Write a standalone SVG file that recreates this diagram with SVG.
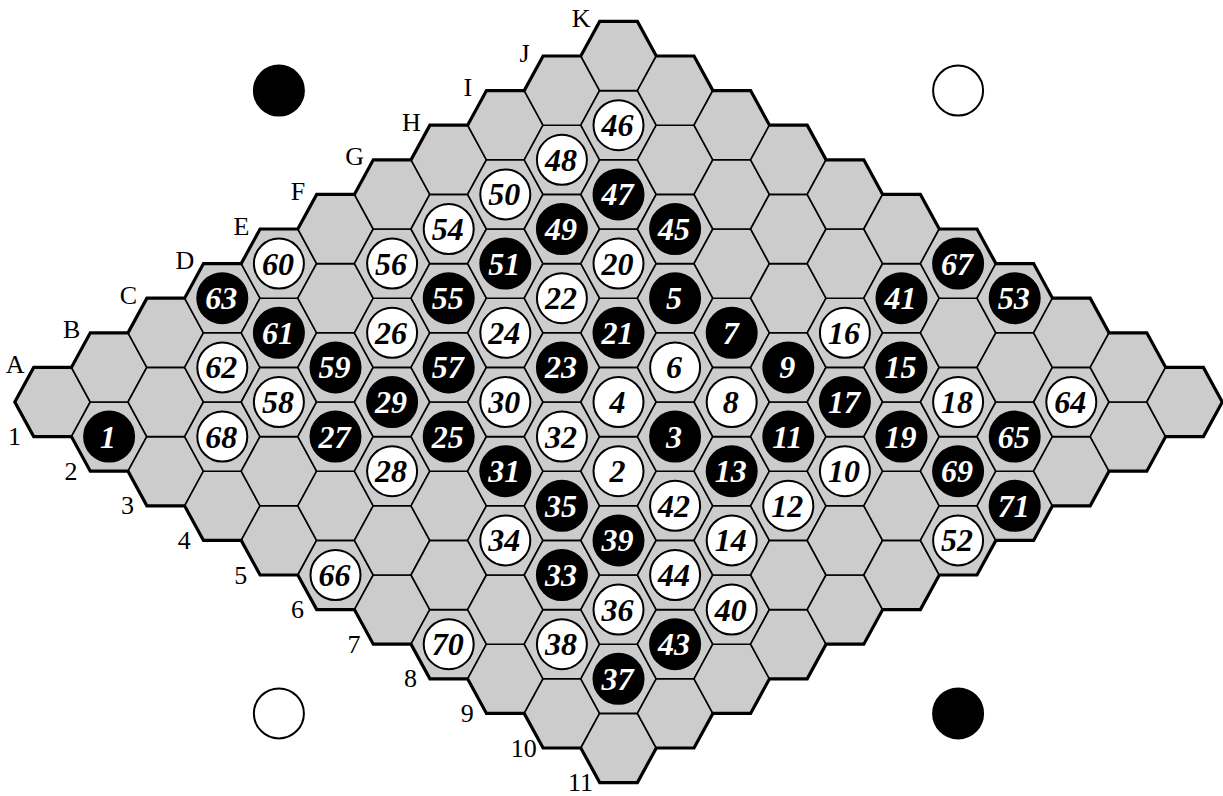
<svg xmlns="http://www.w3.org/2000/svg" width="1223" height="796" viewBox="0 0 1223 796">
<style>
.cell{fill:#cccccc;stroke:#000;stroke-width:1.6;stroke-linejoin:miter}
.edge{fill:none;stroke:#000;stroke-width:3.2;stroke-linejoin:miter}
.st circle{stroke:#000;stroke-width:2}
.st text{font-family:"Liberation Serif","Times New Roman",serif;font-weight:bold;font-style:italic;font-size:32px;text-anchor:middle}
.w circle{fill:#fff}.w text{fill:#000}
.b circle{fill:#000}.b text{fill:#fff}
.lab{font-family:"Liberation Serif","Times New Roman",serif;font-size:26px;text-anchor:middle;fill:#000}
.cw{fill:#fff;stroke:#000;stroke-width:2}
.cb{fill:#000;stroke:#000;stroke-width:2}
</style>
<defs>
<polygon id="hx" class="cell" points="-37.7,0 -18.9,-34.6 18.9,-34.6 37.7,0 18.9,34.6 -18.9,34.6"/>
</defs>
<g id="corners">
<circle class="cb" cx="278.9" cy="90.6" r="25"/>
<circle class="cw" cx="958.1" cy="90.6" r="25"/>
<circle class="cw" cx="278.9" cy="713.4" r="25"/>
<circle class="cb" cx="958.1" cy="713.4" r="25"/>
</g>
<g id="board">
<use id="A1" href="#hx" x="52.5" y="402"/><use id="A2" href="#hx" x="109.1" y="436.6"/><use id="A3" href="#hx" x="165.7" y="471.2"/><use id="A4" href="#hx" x="222.3" y="505.8"/><use id="A5" href="#hx" x="278.9" y="540.4"/><use id="A6" href="#hx" x="335.5" y="575"/><use id="A7" href="#hx" x="392.1" y="609.6"/><use id="A8" href="#hx" x="448.7" y="644.2"/><use id="A9" href="#hx" x="505.3" y="678.8"/><use id="A10" href="#hx" x="561.9" y="713.4"/><use id="A11" href="#hx" x="618.5" y="748"/>
<use id="B1" href="#hx" x="109.1" y="367.4"/><use id="B2" href="#hx" x="165.7" y="402"/><use id="B3" href="#hx" x="222.3" y="436.6"/><use id="B4" href="#hx" x="278.9" y="471.2"/><use id="B5" href="#hx" x="335.5" y="505.8"/><use id="B6" href="#hx" x="392.1" y="540.4"/><use id="B7" href="#hx" x="448.7" y="575"/><use id="B8" href="#hx" x="505.3" y="609.6"/><use id="B9" href="#hx" x="561.9" y="644.2"/><use id="B10" href="#hx" x="618.5" y="678.8"/><use id="B11" href="#hx" x="675.1" y="713.4"/>
<use id="C1" href="#hx" x="165.7" y="332.8"/><use id="C2" href="#hx" x="222.3" y="367.4"/><use id="C3" href="#hx" x="278.9" y="402"/><use id="C4" href="#hx" x="335.5" y="436.6"/><use id="C5" href="#hx" x="392.1" y="471.2"/><use id="C6" href="#hx" x="448.7" y="505.8"/><use id="C7" href="#hx" x="505.3" y="540.4"/><use id="C8" href="#hx" x="561.9" y="575"/><use id="C9" href="#hx" x="618.5" y="609.6"/><use id="C10" href="#hx" x="675.1" y="644.2"/><use id="C11" href="#hx" x="731.7" y="678.8"/>
<use id="D1" href="#hx" x="222.3" y="298.2"/><use id="D2" href="#hx" x="278.9" y="332.8"/><use id="D3" href="#hx" x="335.5" y="367.4"/><use id="D4" href="#hx" x="392.1" y="402"/><use id="D5" href="#hx" x="448.7" y="436.6"/><use id="D6" href="#hx" x="505.3" y="471.2"/><use id="D7" href="#hx" x="561.9" y="505.8"/><use id="D8" href="#hx" x="618.5" y="540.4"/><use id="D9" href="#hx" x="675.1" y="575"/><use id="D10" href="#hx" x="731.7" y="609.6"/><use id="D11" href="#hx" x="788.3" y="644.2"/>
<use id="E1" href="#hx" x="278.9" y="263.6"/><use id="E2" href="#hx" x="335.5" y="298.2"/><use id="E3" href="#hx" x="392.1" y="332.8"/><use id="E4" href="#hx" x="448.7" y="367.4"/><use id="E5" href="#hx" x="505.3" y="402"/><use id="E6" href="#hx" x="561.9" y="436.6"/><use id="E7" href="#hx" x="618.5" y="471.2"/><use id="E8" href="#hx" x="675.1" y="505.8"/><use id="E9" href="#hx" x="731.7" y="540.4"/><use id="E10" href="#hx" x="788.3" y="575"/><use id="E11" href="#hx" x="844.9" y="609.6"/>
<use id="F1" href="#hx" x="335.5" y="229"/><use id="F2" href="#hx" x="392.1" y="263.6"/><use id="F3" href="#hx" x="448.7" y="298.2"/><use id="F4" href="#hx" x="505.3" y="332.8"/><use id="F5" href="#hx" x="561.9" y="367.4"/><use id="F6" href="#hx" x="618.5" y="402"/><use id="F7" href="#hx" x="675.1" y="436.6"/><use id="F8" href="#hx" x="731.7" y="471.2"/><use id="F9" href="#hx" x="788.3" y="505.8"/><use id="F10" href="#hx" x="844.9" y="540.4"/><use id="F11" href="#hx" x="901.5" y="575"/>
<use id="G1" href="#hx" x="392.1" y="194.4"/><use id="G2" href="#hx" x="448.7" y="229"/><use id="G3" href="#hx" x="505.3" y="263.6"/><use id="G4" href="#hx" x="561.9" y="298.2"/><use id="G5" href="#hx" x="618.5" y="332.8"/><use id="G6" href="#hx" x="675.1" y="367.4"/><use id="G7" href="#hx" x="731.7" y="402"/><use id="G8" href="#hx" x="788.3" y="436.6"/><use id="G9" href="#hx" x="844.9" y="471.2"/><use id="G10" href="#hx" x="901.5" y="505.8"/><use id="G11" href="#hx" x="958.1" y="540.4"/>
<use id="H1" href="#hx" x="448.7" y="159.8"/><use id="H2" href="#hx" x="505.3" y="194.4"/><use id="H3" href="#hx" x="561.9" y="229"/><use id="H4" href="#hx" x="618.5" y="263.6"/><use id="H5" href="#hx" x="675.1" y="298.2"/><use id="H6" href="#hx" x="731.7" y="332.8"/><use id="H7" href="#hx" x="788.3" y="367.4"/><use id="H8" href="#hx" x="844.9" y="402"/><use id="H9" href="#hx" x="901.5" y="436.6"/><use id="H10" href="#hx" x="958.1" y="471.2"/><use id="H11" href="#hx" x="1014.7" y="505.8"/>
<use id="I1" href="#hx" x="505.3" y="125.2"/><use id="I2" href="#hx" x="561.9" y="159.8"/><use id="I3" href="#hx" x="618.5" y="194.4"/><use id="I4" href="#hx" x="675.1" y="229"/><use id="I5" href="#hx" x="731.7" y="263.6"/><use id="I6" href="#hx" x="788.3" y="298.2"/><use id="I7" href="#hx" x="844.9" y="332.8"/><use id="I8" href="#hx" x="901.5" y="367.4"/><use id="I9" href="#hx" x="958.1" y="402"/><use id="I10" href="#hx" x="1014.7" y="436.6"/><use id="I11" href="#hx" x="1071.3" y="471.2"/>
<use id="J1" href="#hx" x="561.9" y="90.6"/><use id="J2" href="#hx" x="618.5" y="125.2"/><use id="J3" href="#hx" x="675.1" y="159.8"/><use id="J4" href="#hx" x="731.7" y="194.4"/><use id="J5" href="#hx" x="788.3" y="229"/><use id="J6" href="#hx" x="844.9" y="263.6"/><use id="J7" href="#hx" x="901.5" y="298.2"/><use id="J8" href="#hx" x="958.1" y="332.8"/><use id="J9" href="#hx" x="1014.7" y="367.4"/><use id="J10" href="#hx" x="1071.3" y="402"/><use id="J11" href="#hx" x="1127.9" y="436.6"/>
<use id="K1" href="#hx" x="618.5" y="56"/><use id="K2" href="#hx" x="675.1" y="90.6"/><use id="K3" href="#hx" x="731.7" y="125.2"/><use id="K4" href="#hx" x="788.3" y="159.8"/><use id="K5" href="#hx" x="844.9" y="194.4"/><use id="K6" href="#hx" x="901.5" y="229"/><use id="K7" href="#hx" x="958.1" y="263.6"/><use id="K8" href="#hx" x="1014.7" y="298.2"/><use id="K9" href="#hx" x="1071.3" y="332.8"/><use id="K10" href="#hx" x="1127.9" y="367.4"/><use id="K11" href="#hx" x="1184.5" y="402"/>
<path id="outline" class="edge" d="M14.8,402 l18.9,-34.6 h37.7 l18.9,-34.6 h37.7 l18.9,-34.6 h37.7 l18.9,-34.6 h37.7 l18.9,-34.6 h37.7 l18.9,-34.6 h37.7 l18.9,-34.6 h37.7 l18.9,-34.6 h37.7 l18.9,-34.6 h37.7 l18.9,-34.6 h37.7 l18.9,-34.6 h37.7 l18.9,34.6 h37.7 l18.9,34.6 h37.7 l18.9,34.6 h37.7 l18.9,34.6 h37.7 l18.9,34.6 h37.7 l18.9,34.6 h37.7 l18.9,34.6 h37.7 l18.9,34.6 h37.7 l18.9,34.6 h37.7 l18.9,34.6 h37.7 l18.9,34.6 l-18.9,34.6 h-37.7 l-18.9,34.6 h-37.7 l-18.9,34.6 h-37.7 l-18.9,34.6 h-37.7 l-18.9,34.6 h-37.7 l-18.9,34.6 h-37.7 l-18.9,34.6 h-37.7 l-18.9,34.6 h-37.7 l-18.9,34.6 h-37.7 l-18.9,34.6 h-37.7 l-18.9,34.6 h-37.7 l-18.9,-34.6 h-37.7 l-18.9,-34.6 h-37.7 l-18.9,-34.6 h-37.7 l-18.9,-34.6 h-37.7 l-18.9,-34.6 h-37.7 l-18.9,-34.6 h-37.7 l-18.9,-34.6 h-37.7 l-18.9,-34.6 h-37.7 l-18.9,-34.6 h-37.7 l-18.9,-34.6 h-37.7 l-18.9,-34.6 z"/>
</g>
<g id="labels" class="lab">
<text x="15.1" y="372.9">A</text><text x="71.7" y="338.3">B</text><text x="128.3" y="303.7">C</text><text x="184.9" y="269.1">D</text><text x="241.5" y="234.5">E</text><text x="298.1" y="199.9">F</text><text x="354.7" y="165.3">G</text><text x="411.3" y="130.7">H</text><text x="467.9" y="96.1">I</text><text x="524.5" y="61.5">J</text><text x="581.1" y="26.9">K</text>
<text x="14.4" y="445.2">1</text><text x="71" y="479.8">2</text><text x="127.6" y="514.4">3</text><text x="184.2" y="549">4</text><text x="240.8" y="583.6">5</text><text x="297.4" y="618.2">6</text><text x="354" y="652.8">7</text><text x="410.6" y="687.4">8</text><text x="467.2" y="722">9</text><text x="523.8" y="756.6">10</text><text x="580.4" y="791.2">11</text>
</g>
<g id="stones">
<g id="m1" class="st b"><circle cx="109.1" cy="436.6" r="25"/><text x="108.1" y="447.6">1</text></g>
<g id="m2" class="st w"><circle cx="618.5" cy="471.2" r="25"/><text x="617.5" y="482.2">2</text></g>
<g id="m3" class="st b"><circle cx="675.1" cy="436.6" r="25"/><text x="674.1" y="447.6">3</text></g>
<g id="m4" class="st w"><circle cx="618.5" cy="402" r="25"/><text x="617.5" y="413">4</text></g>
<g id="m5" class="st b"><circle cx="675.1" cy="298.2" r="25"/><text x="674.1" y="309.2">5</text></g>
<g id="m6" class="st w"><circle cx="675.1" cy="367.4" r="25"/><text x="674.1" y="378.4">6</text></g>
<g id="m7" class="st b"><circle cx="731.7" cy="332.8" r="25"/><text x="730.7" y="343.8">7</text></g>
<g id="m8" class="st w"><circle cx="731.7" cy="402" r="25"/><text x="730.7" y="413">8</text></g>
<g id="m9" class="st b"><circle cx="788.3" cy="367.4" r="25"/><text x="787.3" y="378.4">9</text></g>
<g id="m10" class="st w"><circle cx="844.9" cy="471.2" r="25"/><text x="843.9" y="482.2">10</text></g>
<g id="m11" class="st b"><circle cx="788.3" cy="436.6" r="25"/><text x="787.3" y="447.6">11</text></g>
<g id="m12" class="st w"><circle cx="788.3" cy="505.8" r="25"/><text x="787.3" y="516.8">12</text></g>
<g id="m13" class="st b"><circle cx="731.7" cy="471.2" r="25"/><text x="730.7" y="482.2">13</text></g>
<g id="m14" class="st w"><circle cx="731.7" cy="540.4" r="25"/><text x="730.7" y="551.4">14</text></g>
<g id="m15" class="st b"><circle cx="901.5" cy="367.4" r="25"/><text x="900.5" y="378.4">15</text></g>
<g id="m16" class="st w"><circle cx="844.9" cy="332.8" r="25"/><text x="843.9" y="343.8">16</text></g>
<g id="m17" class="st b"><circle cx="844.9" cy="402" r="25"/><text x="843.9" y="413">17</text></g>
<g id="m18" class="st w"><circle cx="958.1" cy="402" r="25"/><text x="957.1" y="413">18</text></g>
<g id="m19" class="st b"><circle cx="901.5" cy="436.6" r="25"/><text x="900.5" y="447.6">19</text></g>
<g id="m20" class="st w"><circle cx="618.5" cy="263.6" r="25"/><text x="617.5" y="274.6">20</text></g>
<g id="m21" class="st b"><circle cx="618.5" cy="332.8" r="25"/><text x="617.5" y="343.8">21</text></g>
<g id="m22" class="st w"><circle cx="561.9" cy="298.2" r="25"/><text x="560.9" y="309.2">22</text></g>
<g id="m23" class="st b"><circle cx="561.9" cy="367.4" r="25"/><text x="560.9" y="378.4">23</text></g>
<g id="m24" class="st w"><circle cx="505.3" cy="332.8" r="25"/><text x="504.3" y="343.8">24</text></g>
<g id="m25" class="st b"><circle cx="448.7" cy="436.6" r="25"/><text x="447.7" y="447.6">25</text></g>
<g id="m26" class="st w"><circle cx="392.1" cy="332.8" r="25"/><text x="391.1" y="343.8">26</text></g>
<g id="m27" class="st b"><circle cx="335.5" cy="436.6" r="25"/><text x="334.5" y="447.6">27</text></g>
<g id="m28" class="st w"><circle cx="392.1" cy="471.2" r="25"/><text x="391.1" y="482.2">28</text></g>
<g id="m29" class="st b"><circle cx="392.1" cy="402" r="25"/><text x="391.1" y="413">29</text></g>
<g id="m30" class="st w"><circle cx="505.3" cy="402" r="25"/><text x="504.3" y="413">30</text></g>
<g id="m31" class="st b"><circle cx="505.3" cy="471.2" r="25"/><text x="504.3" y="482.2">31</text></g>
<g id="m32" class="st w"><circle cx="561.9" cy="436.6" r="25"/><text x="560.9" y="447.6">32</text></g>
<g id="m33" class="st b"><circle cx="561.9" cy="575" r="25"/><text x="560.9" y="586">33</text></g>
<g id="m34" class="st w"><circle cx="505.3" cy="540.4" r="25"/><text x="504.3" y="551.4">34</text></g>
<g id="m35" class="st b"><circle cx="561.9" cy="505.8" r="25"/><text x="560.9" y="516.8">35</text></g>
<g id="m36" class="st w"><circle cx="618.5" cy="609.6" r="25"/><text x="617.5" y="620.6">36</text></g>
<g id="m37" class="st b"><circle cx="618.5" cy="678.8" r="25"/><text x="617.5" y="689.8">37</text></g>
<g id="m38" class="st w"><circle cx="561.9" cy="644.2" r="25"/><text x="560.9" y="655.2">38</text></g>
<g id="m39" class="st b"><circle cx="618.5" cy="540.4" r="25"/><text x="617.5" y="551.4">39</text></g>
<g id="m40" class="st w"><circle cx="731.7" cy="609.6" r="25"/><text x="730.7" y="620.6">40</text></g>
<g id="m41" class="st b"><circle cx="901.5" cy="298.2" r="25"/><text x="900.5" y="309.2">41</text></g>
<g id="m42" class="st w"><circle cx="675.1" cy="505.8" r="25"/><text x="674.1" y="516.8">42</text></g>
<g id="m43" class="st b"><circle cx="675.1" cy="644.2" r="25"/><text x="674.1" y="655.2">43</text></g>
<g id="m44" class="st w"><circle cx="675.1" cy="575" r="25"/><text x="674.1" y="586">44</text></g>
<g id="m45" class="st b"><circle cx="675.1" cy="229" r="25"/><text x="674.1" y="240">45</text></g>
<g id="m46" class="st w"><circle cx="618.5" cy="125.2" r="25"/><text x="617.5" y="136.2">46</text></g>
<g id="m47" class="st b"><circle cx="618.5" cy="194.4" r="25"/><text x="617.5" y="205.4">47</text></g>
<g id="m48" class="st w"><circle cx="561.9" cy="159.8" r="25"/><text x="560.9" y="170.8">48</text></g>
<g id="m49" class="st b"><circle cx="561.9" cy="229" r="25"/><text x="560.9" y="240">49</text></g>
<g id="m50" class="st w"><circle cx="505.3" cy="194.4" r="25"/><text x="504.3" y="205.4">50</text></g>
<g id="m51" class="st b"><circle cx="505.3" cy="263.6" r="25"/><text x="504.3" y="274.6">51</text></g>
<g id="m52" class="st w"><circle cx="958.1" cy="540.4" r="25"/><text x="957.1" y="551.4">52</text></g>
<g id="m53" class="st b"><circle cx="1014.7" cy="298.2" r="25"/><text x="1013.7" y="309.2">53</text></g>
<g id="m54" class="st w"><circle cx="448.7" cy="229" r="25"/><text x="447.7" y="240">54</text></g>
<g id="m55" class="st b"><circle cx="448.7" cy="298.2" r="25"/><text x="447.7" y="309.2">55</text></g>
<g id="m56" class="st w"><circle cx="392.1" cy="263.6" r="25"/><text x="391.1" y="274.6">56</text></g>
<g id="m57" class="st b"><circle cx="448.7" cy="367.4" r="25"/><text x="447.7" y="378.4">57</text></g>
<g id="m58" class="st w"><circle cx="278.9" cy="402" r="25"/><text x="277.9" y="413">58</text></g>
<g id="m59" class="st b"><circle cx="335.5" cy="367.4" r="25"/><text x="334.5" y="378.4">59</text></g>
<g id="m60" class="st w"><circle cx="278.9" cy="263.6" r="25"/><text x="277.9" y="274.6">60</text></g>
<g id="m61" class="st b"><circle cx="278.9" cy="332.8" r="25"/><text x="277.9" y="343.8">61</text></g>
<g id="m62" class="st w"><circle cx="222.3" cy="367.4" r="25"/><text x="221.3" y="378.4">62</text></g>
<g id="m63" class="st b"><circle cx="222.3" cy="298.2" r="25"/><text x="221.3" y="309.2">63</text></g>
<g id="m64" class="st w"><circle cx="1071.3" cy="402" r="25"/><text x="1070.3" y="413">64</text></g>
<g id="m65" class="st b"><circle cx="1014.7" cy="436.6" r="25"/><text x="1013.7" y="447.6">65</text></g>
<g id="m66" class="st w"><circle cx="335.5" cy="575" r="25"/><text x="334.5" y="586">66</text></g>
<g id="m67" class="st b"><circle cx="958.1" cy="263.6" r="25"/><text x="957.1" y="274.6">67</text></g>
<g id="m68" class="st w"><circle cx="222.3" cy="436.6" r="25"/><text x="221.3" y="447.6">68</text></g>
<g id="m69" class="st b"><circle cx="958.1" cy="471.2" r="25"/><text x="957.1" y="482.2">69</text></g>
<g id="m70" class="st w"><circle cx="448.7" cy="644.2" r="25"/><text x="447.7" y="655.2">70</text></g>
<g id="m71" class="st b"><circle cx="1014.7" cy="505.8" r="25"/><text x="1013.7" y="516.8">71</text></g>
</g>
</svg>
